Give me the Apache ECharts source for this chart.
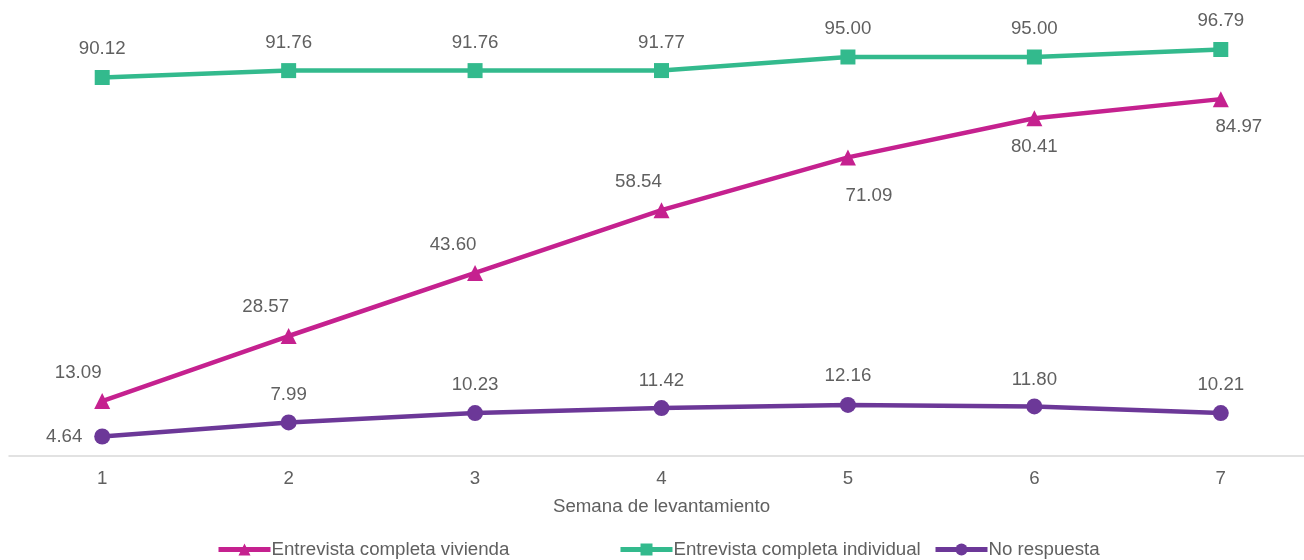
<!DOCTYPE html>
<html><head><meta charset="utf-8">
<script src="https://cdn.jsdelivr.net/npm/echarts@6/dist/echarts.min.js"></script>
<style>html,body{margin:0;padding:0;background:#fff}#c{width:1304px;height:560px}</style>
</head><body><div id="c"></div>
<script>
var categories = ['1','2','3','4','5','6','7'];
var vivienda = [13.09, 28.57, 43.60, 58.54, 71.09, 80.41, 84.97];
var individual = [90.12, 91.76, 91.76, 91.77, 95.00, 95.00, 96.79];
var noRespuesta = [4.64, 7.99, 10.23, 11.42, 12.16, 11.80, 10.21];
var seriesNames = ['Entrevista completa vivienda', 'Entrevista completa individual', 'No respuesta'];

var txt = '#606060';
var font = 'Liberation Sans, Arial, sans-serif';
var fs = 18.7;
function fmt(p){ return p.value.toFixed(2); }

function withLabels(values, offsets){
  return values.map(function(v, i){
    return { value: v, label: { offset: offsets[i] } };
  });
}

var chart = echarts.init(document.getElementById('c'));
var baseLabel = { show: true, position: 'inside', color: txt, fontSize: fs, fontFamily: font, formatter: fmt };
function legendOf(name, left){
  return { data: [name], left: left, top: 535, itemWidth: 52, itemHeight: 15, itemGap: 0,
    lineStyle: { width: 5 },
    textStyle: { color: txt, fontSize: fs, fontFamily: font, padding: [0,0,0,-4] } };
}

chart.setOption({
  animation: false,
  grid: { left: 9, right: -10, top: 36, bottom: 104, outerBoundsMode: 'none', containLabel: false },
  xAxis: {
    type: 'category', data: categories, boundaryGap: true,
    axisLine: { lineStyle: { color: '#d9d9d9', width: 1.5 } },
    axisTick: { show: false },
    axisLabel: { color: txt, fontSize: fs, fontFamily: font, margin: 13 },
    name: 'Semana de levantamiento', nameLocation: 'middle', nameGap: 41,
    nameTextStyle: { color: txt, fontSize: fs, fontFamily: font }
  },
  yAxis: { type: 'value', min: 0, max: 100, show: false, splitLine: { show: false } },
  legend: [ legendOf(seriesNames[0], 211), legendOf(seriesNames[1], 613), legendOf(seriesNames[2], 928) ],
  series: [
    {
      name: seriesNames[0], type: 'line', data: withLabels(vivienda,
        [[-24,-28],[-23,-29],[-22,-28],[-23,-28],[21,38],[0,29],[18,28]]),
      symbol: 'triangle', symbolSize: 16,
      lineStyle: { color: '#C5218F', width: 4.5 }, itemStyle: { color: '#C5218F' },
      label: baseLabel
    },
    {
      name: seriesNames[1], type: 'line', data: withLabels(individual,
        [[0,-29],[0,-28],[0,-28],[0,-28],[0,-28],[0,-28],[0,-29]]),
      symbol: 'rect', symbolSize: 15,
      lineStyle: { color: '#33BA8D', width: 4.5 }, itemStyle: { color: '#33BA8D' },
      label: baseLabel
    },
    {
      name: seriesNames[2], type: 'line', data: withLabels(noRespuesta,
        [[-38,0],[0,-28],[0,-28],[0,-27],[0,-29],[0,-27],[0,-28]]),
      symbol: 'circle', symbolSize: 16,
      lineStyle: { color: '#6C3898', width: 4.5 }, itemStyle: { color: '#6C3898' },
      label: baseLabel
    }
  ]
});
</script></body></html>
